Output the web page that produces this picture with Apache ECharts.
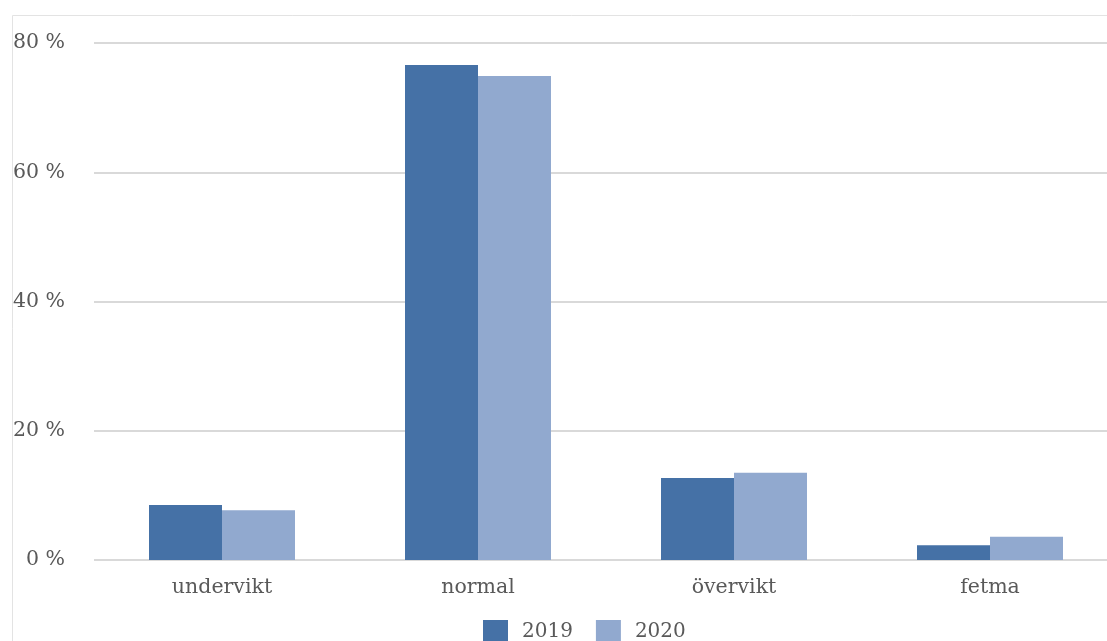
<!DOCTYPE html>
<html>
<head>
<meta charset="utf-8">
<script src="https://cdn.jsdelivr.net/npm/echarts@6/dist/echarts.min.js"></script>
<style>
  html, body { margin: 0; padding: 0; background: #fff; overflow: hidden; }
  #chart { width: 1130px; height: 641px; }
</style>
</head>
<body>
<div id="chart"></div>
<script>
// BMI categories, share of population per year (%)
const categories = ['undervikt', 'normal', 'övervikt', 'fetma'];
const values2019 = [8.5, 76.6, 12.7, 2.3];
const values2020 = [7.7, 74.9, 13.5, 3.6];
const yTicks = [0, 20, 40, 60, 80];

const FONT = '"DejaVu Serif", serif';
const TEXT = '#595959';

const chart = echarts.init(document.getElementById('chart'));
chart.setOption({
  animation: false,
  backgroundColor: '#fff',
  graphic: [{
    type: 'rect',
    left: 10, top: 13,
    shape: { x: 0.5, y: 0.5, width: 1200, height: 700 },
    style: { fill: 'none', stroke: '#e3e3e3', lineWidth: 1 },
    silent: true
  }],
  grid: { left: 94, right: 12, top: 43, bottom: 81, containLabel: false },
  legend: {
    left: 483, top: 620, padding: 0,
    itemWidth: 25, itemHeight: 24, itemGap: 23,
    icon: 'rect',
    textStyle: { color: TEXT, fontFamily: FONT, fontSize: 20, padding: [10, 0, 0, 9] },
    data: ['2019', '2020']
  },
  xAxis: {
    type: 'category',
    data: categories,
    axisTick: { show: false },
    axisLine: { show: false },
    axisLabel: { color: TEXT, fontFamily: FONT, fontSize: 20.5, margin: 17 }
  },
  yAxis: {
    type: 'value',
    min: yTicks[0], max: yTicks[yTicks.length - 1], interval: 20,
    axisLine: { show: false },
    axisTick: { show: false },
    splitLine: { lineStyle: { color: '#d9d9d9', width: 2 } },
    axisLabel: { color: TEXT, fontFamily: FONT, fontSize: 20.5, margin: 29, formatter: v => v + ' %' }
  },
  series: [
    { name: '2019', type: 'bar', data: values2019, barWidth: 73, barGap: '0%',
      itemStyle: { color: '#4571a6' } },
    { name: '2020', type: 'bar', data: values2020, barWidth: 73, barGap: '0%',
      itemStyle: { color: '#91a9cf' } }
  ]
});
</script>
</body>
</html>
